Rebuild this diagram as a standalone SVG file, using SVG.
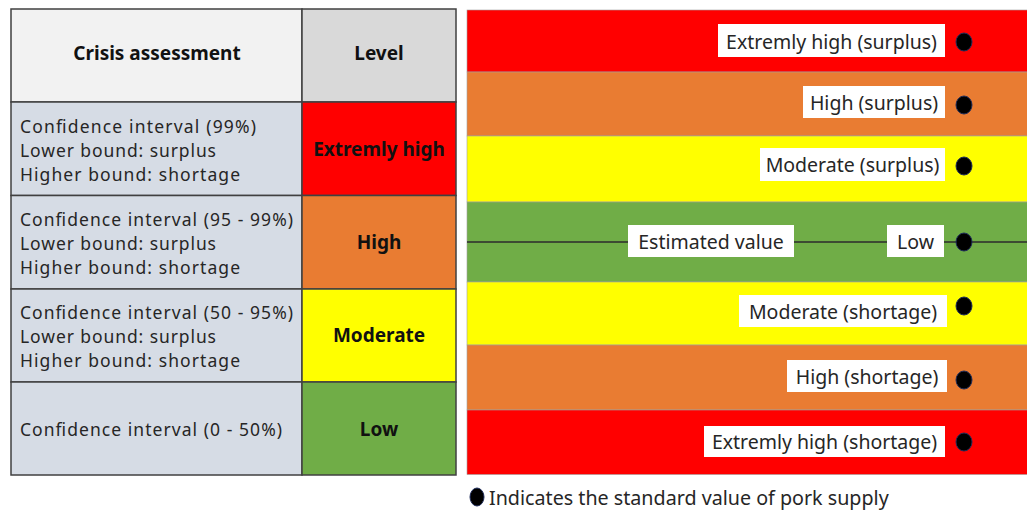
<svg xmlns="http://www.w3.org/2000/svg" width="1027" height="511" viewBox="0 0 1027 511">
  <style>
    text { font-family: "Noto Sans", "Open Sans", "Noto Sans CJK KR", sans-serif; fill: #262626; }
    .hdr { font-size: 19px; font-weight: bold; fill: #111; text-anchor: middle; dominant-baseline: central; }
    .lvl { font-size: 19px; font-weight: bold; fill: #111; text-anchor: middle; dominant-baseline: central; }
    .body { font-size: 17.5px; dominant-baseline: central; }
    .tag { font-size: 19.5px; text-anchor: middle; dominant-baseline: central; }
    .grid { stroke: #404040; stroke-width: 1.5; }
    .band { stroke: #a0a0a0; stroke-width: 0.6; }
    .box { fill: #ffffff; }
    .dot { fill: #000000; stroke: #1f2d5a; stroke-width: 1; }
    .red { fill: #ff0000; }
    .orange { fill: #e97c32; }
    .yellow { fill: #ffff00; }
    .green { fill: #70ad47; }
    .cell { fill: #d6dce5; }
  </style>

  <rect width="1027" height="511" fill="#ffffff"/>

  <!-- Assessment table -->
  <g id="table">
    <g id="header">
      <rect x="11" y="9" width="291" height="93" fill="#f2f2f2" class="grid"/>
      <rect x="302" y="9" width="154" height="93" fill="#d9d9d9" class="grid"/>
      <text class="hdr" x="157" y="53">Crisis assessment</text>
      <text class="hdr" x="379" y="53">Level</text>
    </g>
    <g id="row-extreme">
      <rect x="11" y="102" width="291" height="93.5" class="cell grid"/>
      <rect x="302" y="102" width="154" height="93.5" class="red grid"/>
      <text class="body" x="20" y="126" textLength="236" lengthAdjust="spacing">Confidence interval (99%)</text>
      <text class="body" x="20" y="150" textLength="196" lengthAdjust="spacing">Lower bound: surplus</text>
      <text class="body" x="20" y="174" textLength="220" lengthAdjust="spacing">Higher bound: shortage</text>
      <text class="lvl" x="379" y="149">Extremly high</text>
    </g>
    <g id="row-high">
      <rect x="11" y="195.5" width="291" height="93.5" class="cell grid"/>
      <rect x="302" y="195.5" width="154" height="93.5" class="orange grid"/>
      <text class="body" x="20" y="219" textLength="273" lengthAdjust="spacing">Confidence interval (95 - 99%)</text>
      <text class="body" x="20" y="243" textLength="196" lengthAdjust="spacing">Lower bound: surplus</text>
      <text class="body" x="20" y="267" textLength="220" lengthAdjust="spacing">Higher bound: shortage</text>
      <text class="lvl" x="379" y="242">High</text>
    </g>
    <g id="row-moderate">
      <rect x="11" y="289" width="291" height="93" class="cell grid"/>
      <rect x="302" y="289" width="154" height="93" class="yellow grid"/>
      <text class="body" x="20" y="312" textLength="273" lengthAdjust="spacing">Confidence interval (50 - 95%)</text>
      <text class="body" x="20" y="336" textLength="196" lengthAdjust="spacing">Lower bound: surplus</text>
      <text class="body" x="20" y="360" textLength="220" lengthAdjust="spacing">Higher bound: shortage</text>
      <text class="lvl" x="379" y="335">Moderate</text>
    </g>
    <g id="row-low">
      <rect x="11" y="382" width="291" height="93" class="cell grid"/>
      <rect x="302" y="382" width="154" height="93" class="green grid"/>
      <text class="body" x="20" y="429" textLength="262" lengthAdjust="spacing">Confidence interval (0 - 50%)</text>
      <text class="lvl" x="379" y="429">Low</text>
    </g>
  </g>

  <!-- Level bands -->
  <g id="bands">
    <rect x="467" y="10" width="562" height="62" class="red band"/>
    <rect x="467" y="72" width="562" height="64" class="orange band"/>
    <rect x="467" y="136" width="562" height="66" class="yellow band"/>
    <rect x="467" y="202" width="562" height="80" class="green band"/>
    <rect x="467" y="282" width="562" height="63" class="yellow band"/>
    <rect x="467" y="345" width="562" height="65" class="orange band"/>
    <rect x="467" y="410" width="562" height="64.5" class="red band"/>
  </g>

  <!-- Estimate line -->
  <g id="connectors">
    <line x1="467" y1="242" x2="1027" y2="242" stroke="#2b2b2b" stroke-width="1.5"/>
  </g>

  <g id="extreme-surplus">
    <rect class="box" x="718" y="24" width="227" height="33"/>
    <text class="tag" x="831.5" y="41">Extremly high (surplus)</text>
    <ellipse class="dot" cx="964" cy="42" rx="8" ry="9"/>
  </g>
  <g id="high-surplus">
    <rect class="box" x="803" y="86" width="142" height="32"/>
    <text class="tag" x="874" y="102.5">High (surplus)</text>
    <ellipse class="dot" cx="964" cy="105" rx="8" ry="9"/>
  </g>
  <g id="moderate-surplus">
    <rect class="box" x="760" y="148" width="185" height="33"/>
    <text class="tag" x="852.5" y="164.5">Moderate (surplus)</text>
    <ellipse class="dot" cx="964" cy="166" rx="8" ry="9"/>
  </g>
  <g id="estimated-value">
    <rect class="box" x="628" y="225" width="166" height="32"/>
    <text class="tag" x="711" y="241">Estimated value</text>
  </g>
  <g id="low">
    <rect class="box" x="887" y="225" width="57" height="32"/>
    <text class="tag" x="915.5" y="241">Low</text>
    <ellipse class="dot" cx="964" cy="242" rx="8" ry="9"/>
  </g>
  <g id="moderate-shortage">
    <rect class="box" x="739" y="295" width="208" height="32"/>
    <text class="tag" x="843" y="311">Moderate (shortage)</text>
    <ellipse class="dot" cx="964" cy="306" rx="8" ry="9"/>
  </g>
  <g id="high-shortage">
    <rect class="box" x="787" y="360" width="160" height="32"/>
    <text class="tag" x="867" y="376">High (shortage)</text>
    <ellipse class="dot" cx="964" cy="380" rx="8" ry="9"/>
  </g>
  <g id="extreme-shortage">
    <rect class="box" x="704" y="426" width="241" height="31"/>
    <text class="tag" x="824.5" y="441.5">Extremly high (shortage)</text>
    <ellipse class="dot" cx="964" cy="442" rx="8" ry="9"/>
  </g>

  <!-- Legend -->
  <g id="legend">
    <ellipse class="dot" cx="477" cy="497" rx="7" ry="9"/>
    <text x="489" y="497" font-size="19.7" dominant-baseline="central">Indicates the standard value of pork supply</text>
  </g>
</svg>
